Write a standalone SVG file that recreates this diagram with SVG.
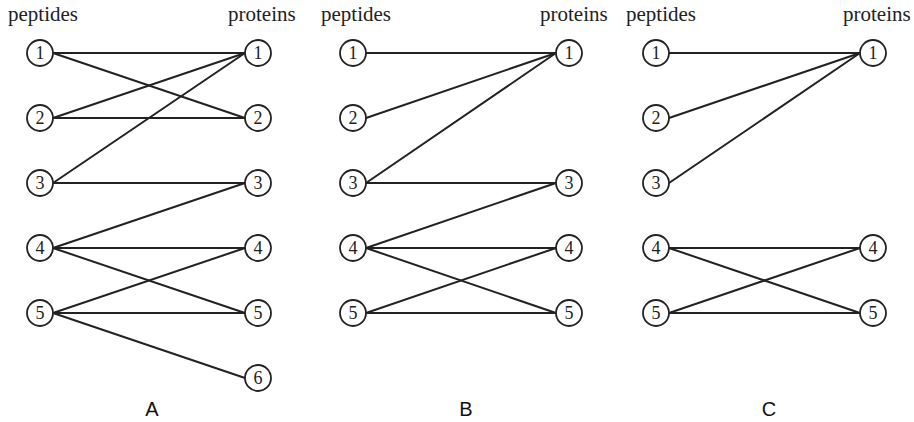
<svg xmlns="http://www.w3.org/2000/svg" width="914" height="422" viewBox="0 0 914 422">
  <style>
    .node circle { fill: #ffffff; stroke: #222222; stroke-width: 1.8; }
    .node text { fill: #222222; text-anchor: middle; }
    .edges line { stroke: #222222; stroke-width: 2; stroke-linecap: round; }
    .head { fill: #222222; }
    .panel { fill: #111111; text-anchor: middle; }
  </style>

  <!-- column headings -->
  <g id="headings" font-family="Liberation Serif, serif" font-size="21">
    <text class="head" x="8" y="21">peptides</text>
    <text class="head" x="228" y="21">proteins</text>
    <text class="head" x="321" y="21">peptides</text>
    <text class="head" x="540" y="21">proteins</text>
    <text class="head" x="626" y="21">peptides</text>
    <text class="head" x="843" y="21">proteins</text>
  </g>

  <!-- connectors: peptide east point to protein west point -->
  <g class="edges">
    <!-- A: peptides x=40, proteins x=258 -->
    <line x1="53" y1="53" x2="245" y2="53"/>
    <line x1="53" y1="53" x2="245" y2="118"/>
    <line x1="53" y1="118" x2="245" y2="53"/>
    <line x1="53" y1="118" x2="245" y2="118"/>
    <line x1="53" y1="183" x2="245" y2="53"/>
    <line x1="53" y1="183" x2="245" y2="183"/>
    <line x1="53" y1="248" x2="245" y2="183"/>
    <line x1="53" y1="248" x2="245" y2="248"/>
    <line x1="53" y1="248" x2="245" y2="313"/>
    <line x1="53" y1="313" x2="245" y2="248"/>
    <line x1="53" y1="313" x2="245" y2="313"/>
    <line x1="53" y1="313" x2="245" y2="378"/>
    <!-- B: peptides x=353, proteins x=569 -->
    <line x1="366" y1="53" x2="556" y2="53"/>
    <line x1="366" y1="118" x2="556" y2="53"/>
    <line x1="366" y1="183" x2="556" y2="53"/>
    <line x1="366" y1="183" x2="556" y2="183"/>
    <line x1="366" y1="248" x2="556" y2="183"/>
    <line x1="366" y1="248" x2="556" y2="248"/>
    <line x1="366" y1="248" x2="556" y2="313"/>
    <line x1="366" y1="313" x2="556" y2="248"/>
    <line x1="366" y1="313" x2="556" y2="313"/>
    <!-- C: peptides x=656, proteins x=873 -->
    <line x1="669" y1="53" x2="860" y2="53"/>
    <line x1="669" y1="118" x2="860" y2="53"/>
    <line x1="669" y1="183" x2="860" y2="53"/>
    <line x1="669" y1="248" x2="860" y2="248"/>
    <line x1="669" y1="248" x2="860" y2="313"/>
    <line x1="669" y1="313" x2="860" y2="248"/>
    <line x1="669" y1="313" x2="860" y2="313"/>
  </g>

  <g id="nodes" font-family="Liberation Serif, serif" font-size="18">
    <!-- panel A nodes -->
    <g id="A-pep-1" class="node"><circle cx="40" cy="53" r="13"/><text x="40" y="59">1</text></g>
    <g id="A-pep-2" class="node"><circle cx="40" cy="118" r="13"/><text x="40" y="124">2</text></g>
    <g id="A-pep-3" class="node"><circle cx="40" cy="183" r="13"/><text x="40" y="189">3</text></g>
    <g id="A-pep-4" class="node"><circle cx="40" cy="248" r="13"/><text x="40" y="254">4</text></g>
    <g id="A-pep-5" class="node"><circle cx="40" cy="313" r="13"/><text x="40" y="319">5</text></g>
    <g id="A-prot-1" class="node"><circle cx="258" cy="53" r="13"/><text x="258" y="59">1</text></g>
    <g id="A-prot-2" class="node"><circle cx="258" cy="118" r="13"/><text x="258" y="124">2</text></g>
    <g id="A-prot-3" class="node"><circle cx="258" cy="183" r="13"/><text x="258" y="189">3</text></g>
    <g id="A-prot-4" class="node"><circle cx="258" cy="248" r="13"/><text x="258" y="254">4</text></g>
    <g id="A-prot-5" class="node"><circle cx="258" cy="313" r="13"/><text x="258" y="319">5</text></g>
    <g id="A-prot-6" class="node"><circle cx="258" cy="378" r="13"/><text x="258" y="384">6</text></g>

    <!-- panel B nodes -->
    <g id="B-pep-1" class="node"><circle cx="353" cy="53" r="13"/><text x="353" y="59">1</text></g>
    <g id="B-pep-2" class="node"><circle cx="353" cy="118" r="13"/><text x="353" y="124">2</text></g>
    <g id="B-pep-3" class="node"><circle cx="353" cy="183" r="13"/><text x="353" y="189">3</text></g>
    <g id="B-pep-4" class="node"><circle cx="353" cy="248" r="13"/><text x="353" y="254">4</text></g>
    <g id="B-pep-5" class="node"><circle cx="353" cy="313" r="13"/><text x="353" y="319">5</text></g>
    <g id="B-prot-1" class="node"><circle cx="569" cy="53" r="13"/><text x="569" y="59">1</text></g>
    <g id="B-prot-3" class="node"><circle cx="569" cy="183" r="13"/><text x="569" y="189">3</text></g>
    <g id="B-prot-4" class="node"><circle cx="569" cy="248" r="13"/><text x="569" y="254">4</text></g>
    <g id="B-prot-5" class="node"><circle cx="569" cy="313" r="13"/><text x="569" y="319">5</text></g>

    <!-- panel C nodes -->
    <g id="C-pep-1" class="node"><circle cx="656" cy="53" r="13"/><text x="656" y="59">1</text></g>
    <g id="C-pep-2" class="node"><circle cx="656" cy="118" r="13"/><text x="656" y="124">2</text></g>
    <g id="C-pep-3" class="node"><circle cx="656" cy="183" r="13"/><text x="656" y="189">3</text></g>
    <g id="C-pep-4" class="node"><circle cx="656" cy="248" r="13"/><text x="656" y="254">4</text></g>
    <g id="C-pep-5" class="node"><circle cx="656" cy="313" r="13"/><text x="656" y="319">5</text></g>
    <g id="C-prot-1" class="node"><circle cx="873" cy="53" r="13"/><text x="873" y="59">1</text></g>
    <g id="C-prot-4" class="node"><circle cx="873" cy="248" r="13"/><text x="873" y="254">4</text></g>
    <g id="C-prot-5" class="node"><circle cx="873" cy="313" r="13"/><text x="873" y="319">5</text></g>
  </g>

  <!-- panel captions -->
  <g id="captions" font-family="Liberation Sans, Arial, sans-serif" font-size="20">
    <text class="panel" x="152" y="416">A</text>
    <text class="panel" x="466" y="416">B</text>
    <text class="panel" x="769" y="416">C</text>
  </g>
</svg>
